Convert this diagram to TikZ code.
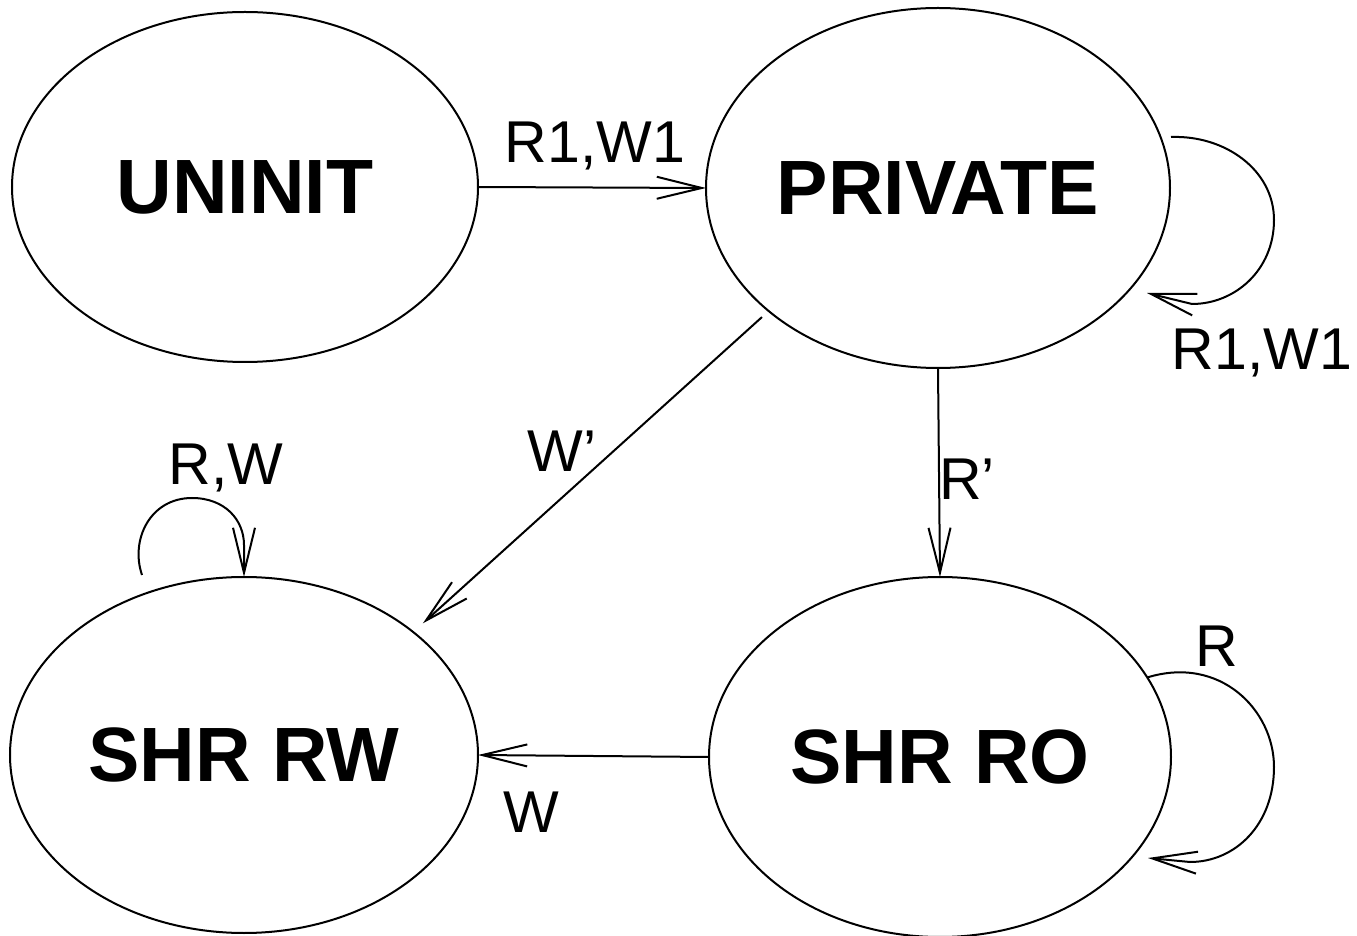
\documentclass[tikz,border=0pt]{standalone}
\usepackage{fontspec}
\setmainfont{Liberation Sans}
\usetikzlibrary{shapes.geometric,arrows.meta}
\begin{document}
\begin{tikzpicture}[x=0.5pt,y=-0.5pt,
  state/.style={ellipse,draw,line width=1pt,inner sep=0pt,outer sep=0pt,
    font=\fontsize{38.5}{40}\selectfont\bfseries},
  arr/.style={line width=1pt,-{Straight Barb[length=22.5pt,width=11pt,line width=1pt]}},
  lbl/.style={anchor=base,inner sep=0pt,font=\fontsize{29.5}{31}\selectfont}]
\useasboundingbox (0,0) rectangle (1357,936);

% states
\node[state,minimum width=233pt,minimum height=175pt] (unin) at (245,187) {UNINIT};
\node[state,minimum width=232pt,minimum height=180pt] (priv) at (938,188) {PRIVATE};
\node[state,minimum width=234pt,minimum height=178pt] (shrw) at (244,755) {SHR RW};
\node[state,minimum width=231pt,minimum height=180pt] (shro) at (940,757) {SHR RO};

% transitions between states
\draw[arr] (unin.east) -- (priv.west);
\draw[arr,shorten <=4.5pt,shorten >=6.5pt] (priv.216) -- (shrw.36);
\draw[arr] (priv.south) -- (shro.north);
\draw[arr] (shro.west) -- (shrw.east);

% self loops
\coordinate (pvs) at (1171,137);
\coordinate (pve) at (1147,293);
\draw[arr] (pvs) .. controls (1225,135) and (1274,170) .. (1274,220)
  .. controls (1274,270) and (1235,304) .. (1192,304) -- (pve);

\coordinate (roe) at (1148,858);
\draw[arr] (shro.21) .. controls (1220,655) and (1274,710) .. (1274,767)
  .. controls (1274,825) and (1235,862) .. (1190,862) -- (roe);

\coordinate (rws) at (142,575);
\draw[arr] (rws) .. controls (130,540) and (150,498) .. (192,498)
  .. controls (225,498) and (244,520) .. (244,545) -- (shrw.north);

% transition labels
\node[lbl] (l1) at (595,163) {R1,W1};
\node[lbl] (l2) at (562,472) {W’};
\node[lbl] (l3) at (967,500) {R’};
\node[lbl] (l4) at (531,832) {W};
\node[lbl] (l5) at (1262,370) {R1,W1};
\node[lbl] (l6) at (226,485) {R,W};
\node[lbl] (l7) at (1217,667) {R};
\end{tikzpicture}
\end{document}
